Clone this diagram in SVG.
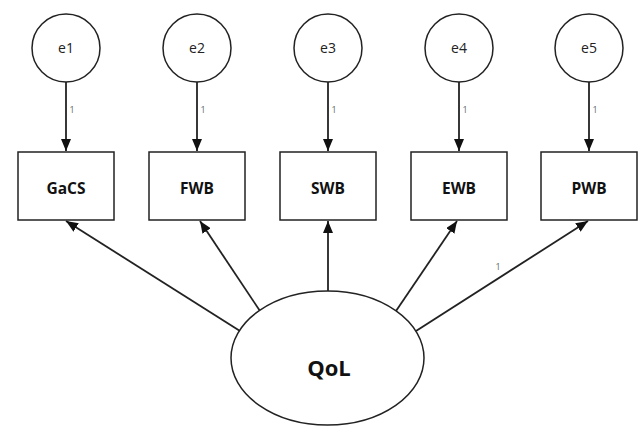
<svg xmlns="http://www.w3.org/2000/svg" width="642" height="427" viewBox="0 0 642 427">
<style>
.c{fill:#fff;stroke:#222;stroke-width:1.5}
.b{fill:#fff;stroke:#222;stroke-width:1.5}
.t{font-family:"Open Sans","Noto Sans",sans-serif;font-size:14px;fill:#222;text-anchor:middle}
.bt{font-family:"Open Sans","Noto Sans",sans-serif;font-size:15.5px;font-weight:bold;fill:#111;text-anchor:middle}
.w{font-family:"Open Sans","Noto Sans",sans-serif;font-size:9px;fill:#666;text-anchor:middle}
.l{stroke:#222;stroke-width:1.8;fill:none;marker-end:url(#ah)}
</style>
<defs>
<marker id="ah" viewBox="0 0 12 10" refX="12" refY="5" markerWidth="12" markerHeight="10" markerUnits="userSpaceOnUse" orient="auto">
<path d="M0,0 L12,5 L0,10 Z" fill="#111"/>
</marker>
</defs>
<rect width="642" height="427" fill="#fff"/>
<g id="connectors">
<line class="l" x1="66" y1="82" x2="66" y2="151"/>
<line class="l" x1="197" y1="82" x2="197" y2="151"/>
<line class="l" x1="328" y1="82" x2="328" y2="151"/>
<line class="l" x1="459" y1="82" x2="459" y2="151"/>
<line class="l" x1="589" y1="82" x2="589" y2="151"/>
<line class="l" x1="240" y1="331" x2="66" y2="221"/>
<line class="l" x1="260" y1="311" x2="200" y2="221"/>
<line class="l" x1="328" y1="291" x2="328" y2="221"/>
<line class="l" x1="396" y1="311" x2="457" y2="221"/>
<line class="l" x1="416" y1="331" x2="588" y2="221"/>
<text class="w" x="72" y="113">1</text>
<text class="w" x="203" y="113">1</text>
<text class="w" x="334" y="113">1</text>
<text class="w" x="465" y="113">1</text>
<text class="w" x="595" y="113">1</text>
<text class="w" x="498" y="270">1</text>
</g>
<g id="e1"><circle class="c" cx="66" cy="48" r="34"/><text class="t" x="66" y="53">e1</text></g>
<g id="e2"><circle class="c" cx="197" cy="48" r="34"/><text class="t" x="197" y="53">e2</text></g>
<g id="e3"><circle class="c" cx="328" cy="48" r="34"/><text class="t" x="328" y="53">e3</text></g>
<g id="e4"><circle class="c" cx="459" cy="48" r="34"/><text class="t" x="459" y="53">e4</text></g>
<g id="e5"><circle class="c" cx="589" cy="48" r="34"/><text class="t" x="589" y="53">e5</text></g>
<g id="GaCS"><rect class="b" x="18" y="152" width="96" height="68"/><text class="bt" x="66" y="194">GaCS</text></g>
<g id="FWB"><rect class="b" x="149" y="152" width="96" height="68"/><text class="bt" x="197" y="194">FWB</text></g>
<g id="SWB"><rect class="b" x="280" y="152" width="96" height="68"/><text class="bt" x="328" y="194">SWB</text></g>
<g id="EWB"><rect class="b" x="411" y="152" width="96" height="68"/><text class="bt" x="459" y="194">EWB</text></g>
<g id="PWB"><rect class="b" x="541" y="152" width="96" height="68"/><text class="bt" x="589" y="194">PWB</text></g>
<g id="QoL"><ellipse class="c" cx="327.5" cy="358" rx="96.5" ry="67"/><text class="bt" x="329" y="376" style="font-size:22px">QoL</text></g>
</svg>
